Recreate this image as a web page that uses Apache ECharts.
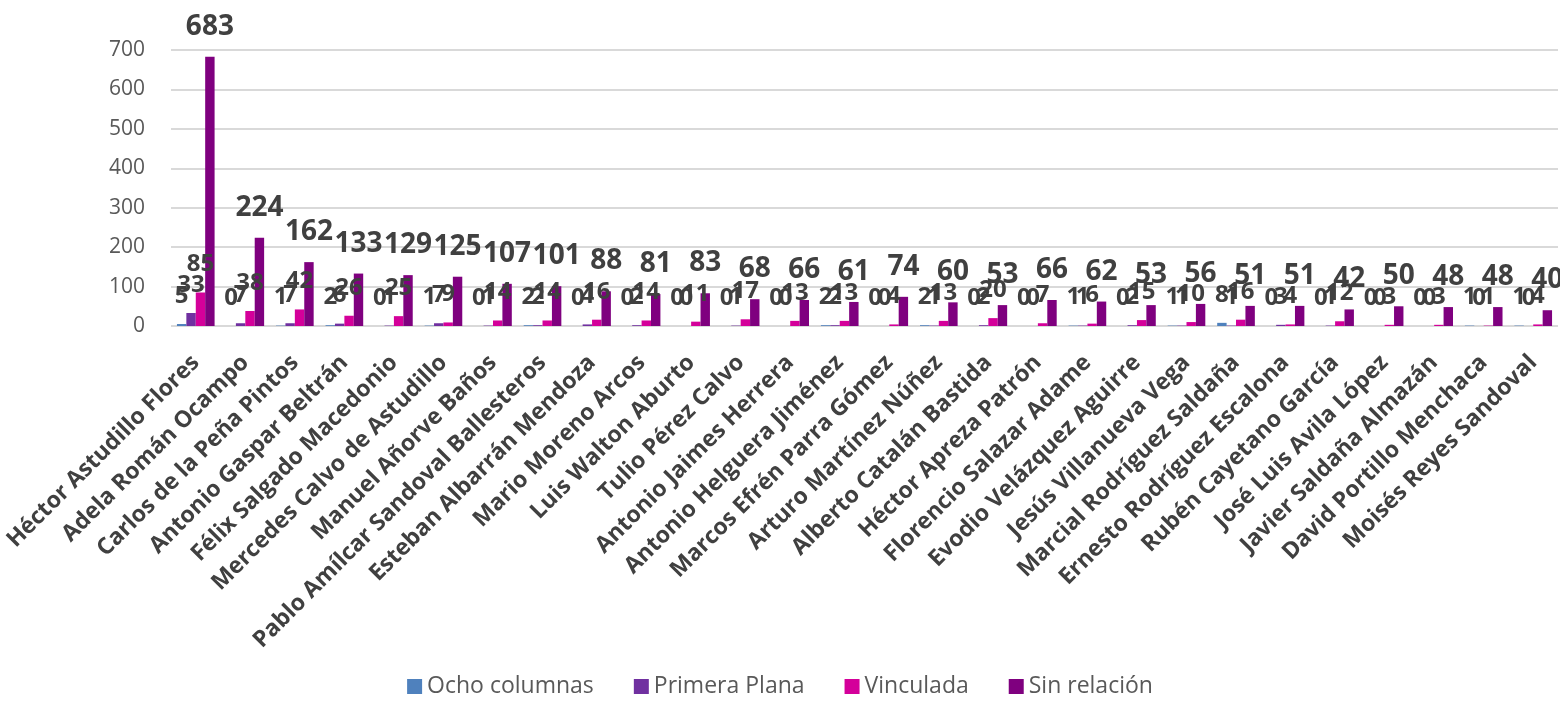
<!DOCTYPE html>
<html>
<head>
<meta charset="utf-8">
<script src="https://cdn.jsdelivr.net/npm/echarts@6/dist/echarts.min.js"></script>
<style>
  html, body { margin: 0; padding: 0; background: #fff; }
  #chart { width: 1560px; height: 704px; }
</style>
</head>
<body>
<div id="chart"></div>
<script>
const categories = [
  'Héctor Astudillo Flores', 'Adela Román Ocampo', 'Carlos de la Peña Pintos',
  'Antonio Gaspar Beltrán', 'Félix Salgado Macedonio', 'Mercedes Calvo de Astudillo',
  'Manuel Añorve Baños', 'Pablo Amílcar Sandoval Ballesteros', 'Esteban Albarrán Mendoza',
  'Mario Moreno Arcos', 'Luis Walton Aburto', 'Tulio Pérez Calvo',
  'Antonio Jaimes Herrera', 'Antonio Helguera Jiménez', 'Marcos Efrén Parra Gómez',
  'Arturo Martínez Núñez', 'Alberto Catalán Bastida', 'Héctor Apreza Patrón',
  'Florencio Salazar Adame', 'Evodio Velázquez Aguirre', 'Jesús Villanueva Vega',
  'Marcial Rodríguez Saldaña', 'Ernesto Rodríguez Escalona', 'Rubén Cayetano García',
  'José Luis Avila López', 'Javier Saldaña Almazán', 'David Portillo Menchaca',
  'Moisés Reyes Sandoval'
];

const ochoColumnas = [5, 0, 1, 2, 0, 1, 0, 2, 0, 0, 0, 0, 0, 2, 0, 2, 0, 0, 1, 0, 1, 8, 0, 0, 0, 0, 1, 1];
const primeraPlana = [33, 7, 7, 6, 1, 7, 1, 2, 4, 2, 0, 1, 0, 2, 0, 1, 2, 0, 1, 2, 1, 1, 3, 1, 0, 0, 0, 0];
const vinculada = [85, 38, 42, 26, 25, 9, 14, 14, 16, 14, 11, 17, 13, 13, 4, 13, 20, 7, 6, 15, 10, 16, 4, 12, 3, 3, 1, 4];
const sinRelacion = [683, 224, 162, 133, 129, 125, 107, 101, 88, 81, 83, 68, 66, 61, 74, 60, 53, 66, 62, 53, 56, 51, 51, 42, 50, 48, 48, 40];

const yTicks = [0, 100, 200, 300, 400, 500, 600, 700];

const font = '"Open Sans", "Noto Sans", sans-serif';

function barSeries(name, data, color, labelSize) {
  return {
    name: name,
    type: 'bar',
    data: data,
    barGap: '0%',
    barCategoryGap: '24%',
    itemStyle: { color: color },
    label: {
      show: true,
      position: 'top',
      distance: 16,
      fontFamily: font,
      fontWeight: 'bold',
      fontSize: labelSize,
      color: '#404040'
    }
  };
}

const chart = echarts.init(document.getElementById('chart'));

chart.setOption({
  animation: false,
  backgroundColor: '#ffffff',
  grid: { left: 171, right: 2, top: 50, bottom: 378, containLabel: false },
  legend: {
    top: 670,
    left: 'center',
    itemWidth: 15,
    itemHeight: 15,
    itemGap: 40,
    icon: 'rect',
    textStyle: { fontFamily: font, fontSize: 23, color: '#595959' },
    data: ['Ocho columnas', 'Primera Plana', 'Vinculada', 'Sin relación']
  },
  xAxis: {
    type: 'category',
    data: categories,
    axisLine: { show: false },
    axisTick: { show: false },
    axisLabel: {
      interval: 0,
      rotate: 45,
      margin: 33,
      fontFamily: font,
      fontWeight: 'bold',
      fontSize: 23,
      color: '#404040'
    }
  },
  yAxis: {
    type: 'value',
    min: yTicks[0],
    max: yTicks[yTicks.length - 1],
    interval: 100,
    axisLine: { show: false },
    axisTick: { show: false },
    splitLine: { lineStyle: { color: '#d9d9d9', width: 2 } },
    axisLabel: {
      margin: 26,
      fontFamily: font,
      fontSize: 21,
      color: '#595959'
    }
  },
  series: [
    barSeries('Ocho columnas', ochoColumnas, '#4f81bd', 24),
    barSeries('Primera Plana', primeraPlana, '#7030a0', 24),
    barSeries('Vinculada', vinculada, '#d4009a', 24),
    barSeries('Sin relación', sinRelacion, '#7f007f', 28)
  ]
});
</script>
</body>
</html>
